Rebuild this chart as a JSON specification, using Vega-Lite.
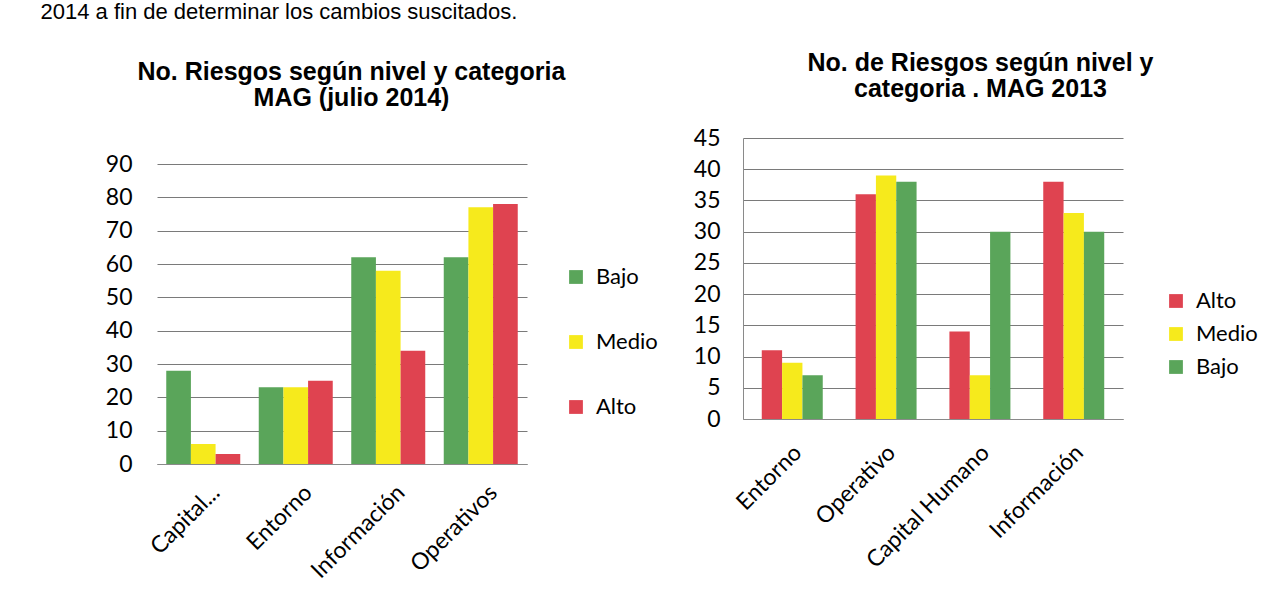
{
  "$schema": "https://vega.github.io/schema/vega-lite/v6.json",
  "padding": {"left": 40, "top": 0, "right": 10, "bottom": 5},
  "background": "white",
  "spacing": 35,
  "resolve": {"scale": {"color": "independent", "x": "independent", "y": "independent", "xOffset": "independent"}, "legend": {"color": "independent"}},
  "config": {
    "view": {"stroke": null},
    "axis": {"labelFont": "Lato", "labelColor": "black", "gridColor": "#7a7a7a", "gridWidth": 1, "domainColor": "#8a8a8a", "ticks": false},
    "legend": {"labelFont": "Lato", "labelColor": "black"}
  },
  "hconcat": [
    {
      "width": 370,
      "height": 326,
      "data": {"values": [
        {"categoria": "Capital...", "nivel": "Bajo", "riesgos": 28},
        {"categoria": "Capital...", "nivel": "Medio", "riesgos": 6},
        {"categoria": "Capital...", "nivel": "Alto", "riesgos": 3},
        {"categoria": "Entorno", "nivel": "Bajo", "riesgos": 23},
        {"categoria": "Entorno", "nivel": "Medio", "riesgos": 23},
        {"categoria": "Entorno", "nivel": "Alto", "riesgos": 25},
        {"categoria": "Información", "nivel": "Bajo", "riesgos": 62},
        {"categoria": "Información", "nivel": "Medio", "riesgos": 58},
        {"categoria": "Información", "nivel": "Alto", "riesgos": 34},
        {"categoria": "Operativos", "nivel": "Bajo", "riesgos": 62},
        {"categoria": "Operativos", "nivel": "Medio", "riesgos": 77},
        {"categoria": "Operativos", "nivel": "Alto", "riesgos": 78}
      ]},
      "mark": {"type": "bar"},
      "encoding": {
        "x": {"field": "categoria", "type": "nominal", "sort": ["Capital...", "Entorno", "Información", "Operativos"],
              "scale": {"paddingInner": 0.2, "paddingOuter": 0.1},
              "axis": {"labelAngle": -45, "labelFontSize": 23, "labelOffset": 5, "labelPadding": 17,
                       "title": "2014  a fin de determinar  los cambios suscitados.", "titleFont": "Liberation Sans", "titleFontSize": 22, "titleFontWeight": "normal", "titleColor": "black",
                       "titleAngle": 0, "titleX": -117, "titleY": -463, "titleAlign": "left", "titleBaseline": "top"}},
        "xOffset": {"field": "nivel", "type": "nominal", "scale": {"domain": ["Bajo", "Medio", "Alto"], "paddingInner": 0, "paddingOuter": 0}},
        "y": {"field": "riesgos", "type": "quantitative", "scale": {"domain": [0, 97.8], "nice": false},
              "axis": {"values": [0, 10, 20, 30, 40, 50, 60, 70, 80, 90], "domain": false, "labelFontSize": 23, "labelPadding": 25,
                       "title": ["No. Riesgos  según nivel y categoria", "MAG (julio 2014)"], "titleFont": "Liberation Sans", "titleFontSize": 25, "titleFontWeight": "bold", "titleColor": "black", "titleLineHeight": 26,
                       "titleAngle": 0, "titleX": 194, "titleY": -79, "titleAlign": "center", "titleBaseline": "top"}},
        "color": {"field": "nivel", "type": "nominal",
                  "scale": {"domain": ["Bajo", "Medio", "Alto"], "range": ["#5aa55a", "#f6ea1c", "#df4350"]},
                  "legend": {"title": null, "orient": "none", "legendX": 408, "legendY": 128, "symbolType": "square", "symbolSize": 190, "symbolStrokeWidth": 0, "labelFontSize": 22, "rowPadding": 43, "padding": 0, "labelOffset": 9}}
      }
    },
    {
      "width": 380,
      "height": 281,
      "data": {"values": [
        {"categoria": "Entorno", "nivel": "Alto", "riesgos": 11},
        {"categoria": "Entorno", "nivel": "Medio", "riesgos": 9},
        {"categoria": "Entorno", "nivel": "Bajo", "riesgos": 7},
        {"categoria": "Operativo", "nivel": "Alto", "riesgos": 36},
        {"categoria": "Operativo", "nivel": "Medio", "riesgos": 39},
        {"categoria": "Operativo", "nivel": "Bajo", "riesgos": 38},
        {"categoria": "Capital Humano", "nivel": "Alto", "riesgos": 14},
        {"categoria": "Capital Humano", "nivel": "Medio", "riesgos": 7},
        {"categoria": "Capital Humano", "nivel": "Bajo", "riesgos": 30},
        {"categoria": "Información", "nivel": "Alto", "riesgos": 38},
        {"categoria": "Información", "nivel": "Medio", "riesgos": 33},
        {"categoria": "Información", "nivel": "Bajo", "riesgos": 30}
      ]},
      "mark": {"type": "bar"},
      "encoding": {
        "x": {"field": "categoria", "type": "nominal", "sort": ["Entorno", "Operativo", "Capital Humano", "Información"],
              "scale": {"paddingInner": 0.35, "paddingOuter": 0.2},
              "axis": {"labelAngle": -45, "labelFontSize": 23, "labelOffset": -2, "labelPadding": 22,
                       "title": "·", "titleFontSize": 8, "titleColor": "white", "titleAngle": 0, "titleX": 2, "titleY": -418, "titleAlign": "left", "titleBaseline": "top"}},
        "xOffset": {"field": "nivel", "type": "nominal", "scale": {"domain": ["Alto", "Medio", "Bajo"], "paddingInner": 0, "paddingOuter": 0}},
        "y": {"field": "riesgos", "type": "quantitative", "scale": {"domain": [0, 45], "nice": false},
              "axis": {"values": [0, 5, 10, 15, 20, 25, 30, 35, 40, 45], "domain": true, "labelFontSize": 23, "labelPadding": 23,
                       "title": ["No. de Riesgos según nivel y", "categoria . MAG 2013"], "titleFont": "Liberation Sans", "titleFontSize": 25, "titleFontWeight": "bold", "titleColor": "black", "titleLineHeight": 26,
                       "titleAngle": 0, "titleX": 237, "titleY": -88, "titleAlign": "center", "titleBaseline": "top"}},
        "color": {"field": "nivel", "type": "nominal",
                  "scale": {"domain": ["Alto", "Medio", "Bajo"], "range": ["#df4350", "#f6ea1c", "#5aa55a"]},
                  "legend": {"title": null, "orient": "none", "legendX": 422, "legendY": 152, "symbolType": "square", "symbolSize": 190, "symbolStrokeWidth": 0, "labelFontSize": 22, "rowPadding": 11, "padding": 0, "labelOffset": 9}}
      }
    }
  ]
}
